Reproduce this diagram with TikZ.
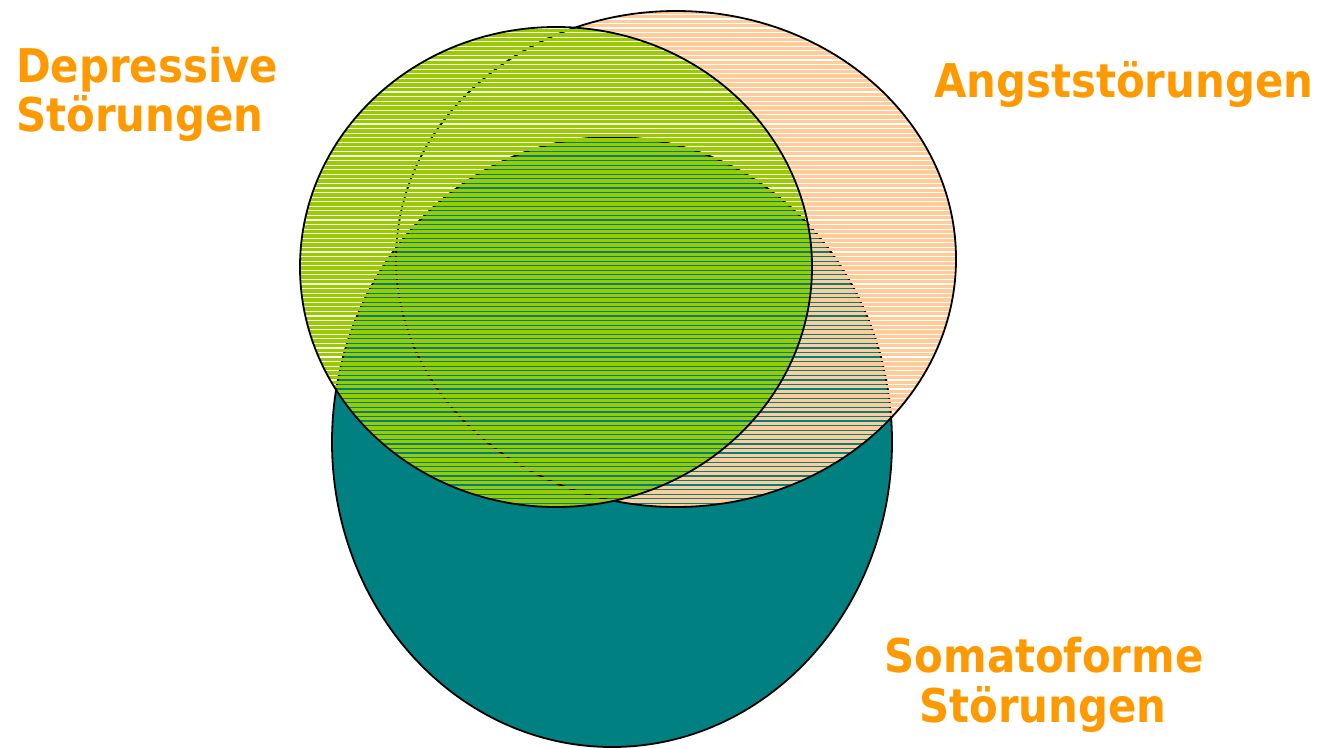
\documentclass[tikz,border=0pt]{standalone}
\usepackage{fontspec}
\newfontfamily\labfont{DejaVu Sans Condensed}
\definecolor{tealc}{HTML}{008080}
\definecolor{peach}{HTML}{FFCC99}
\definecolor{lgreen}{HTML}{99CC00}
\definecolor{labor}{HTML}{FF9900}
\begin{document}
\begin{tikzpicture}[x=1pt,y=-1pt,
  outl/.style={draw=black,line width=1.8pt},
  lab/.style={text=labor,inner sep=0pt,font=\labfont\bfseries\fontsize{46.5}{50}\selectfont},
  stripe/.style={line width=3.37pt}]
\useasboundingbox (0,0) rectangle (1321,747);
% Somatoforme (teal)
\fill[tealc] (612,442) ellipse [x radius=280, y radius=305];
\draw[outl] (612,442) ellipse [x radius=280, y radius=305];
% Angst (peach stripes)
\begin{scope}
  \clip (676,259) ellipse [x radius=280, y radius=248];
  \foreach \k in {-28,...,137}
    \draw[stripe,peach] (0,{126.3+4.57*\k}) -- (1321,{126.3+4.57*\k});
\end{scope}
\draw[outl] (676,259) ellipse [x radius=280, y radius=248];
% Depressive (green stripes)
\begin{scope}
  \clip (556,267) ellipse [x radius=256, y radius=240];
  \foreach \k in {-28,...,137}
    \draw[stripe,lgreen] (0,{126.3+4.57*\k}) -- (1321,{126.3+4.57*\k});
\end{scope}
\draw[outl] (556,267) ellipse [x radius=256, y radius=240];
% labels
\node[lab,anchor=base west] (d1) at (16,82) {Depressive};
\node[lab,anchor=base west] (d2) at (16,131) {Störungen};
\node[lab,anchor=base west] (a1) at (934,97) {Angststörungen};
\node[lab,anchor=base] (s1) at (1044,672) {Somatoforme};
\node[lab,anchor=base] (s2) at (1043,722) {Störungen};
\end{tikzpicture}
\end{document}
